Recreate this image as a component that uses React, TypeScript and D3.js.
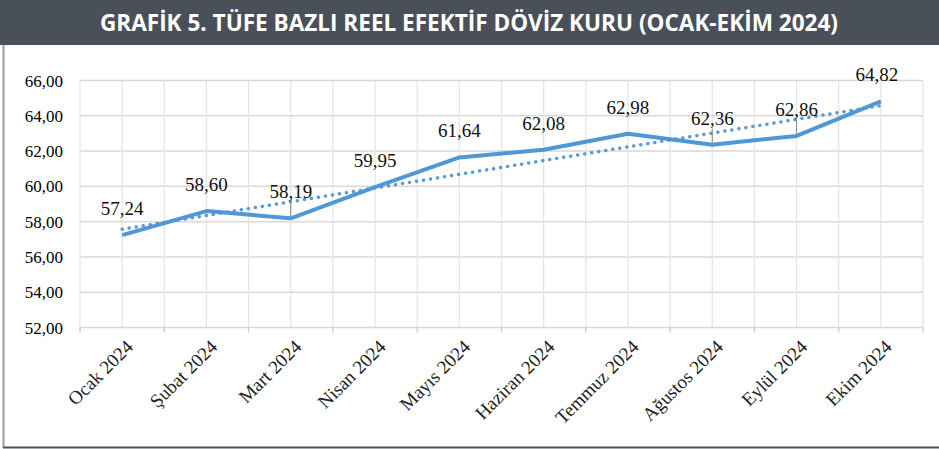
import React from "react";
import * as d3 from "d3";

const categories = ["Ocak 2024", "Şubat 2024", "Mart 2024", "Nisan 2024", "Mayıs 2024", "Haziran 2024", "Temmuz 2024", "Ağustos 2024", "Eylül 2024", "Ekim 2024"];
const values = [57.24, 58.6, 58.19, 59.95, 61.64, 62.08, 62.98, 62.36, 62.86, 64.82];
const yTicks = [52, 54, 56, 58, 60, 62, 64, 66];
const leaderIdx = [2, 7, 8];
const title = "GRAFİK 5. TÜFE BAZLI REEL EFEKTİF DÖVİZ KURU (OCAK-EKİM 2024)";

const W = 939, H = 449;
const L = 80, R = 923, T = 80.5, B = 327.5;
const SERIF = "Liberation Serif, DejaVu Serif, serif";

export default function App() {
  const x = d3.scaleBand<string>().domain(categories).range([L, R]).padding(0);
  const y = d3.scaleLinear().domain([52, 66]).range([B, T]);
  const cx = (i: number) => (x(categories[i]) as number) + x.bandwidth() / 2;
  const fmt = (v: number) => v.toFixed(2).replace(".", ",");

  const n = values.length;
  const xm = (n - 1) / 2;
  const ym = d3.mean(values) as number;
  let sxy = 0, sxx = 0;
  values.forEach((v, i) => { sxy += (i - xm) * (v - ym); sxx += (i - xm) ** 2; });
  const slope = sxy / sxx;
  const icpt = ym - slope * xm;

  const line = d3.line<number>().x((_, i) => cx(i)).y((d) => y(d));
  const bw = x.bandwidth();
  const vGrid: number[] = [];
  for (let i = 0; i <= n * 2; i++) vGrid.push(L + (i * bw) / 2);

  return (
    <svg width={W} height={H} style={{ position: "absolute", left: 0, top: 0, background: "#fff" }}>
      <rect x={0} y={0} width={W} height={45} fill="#4a505a" />
      <text x={469} y={31} textAnchor="middle" fill="#fff" style={{ fontFamily: "Open Sans, sans-serif", fontWeight: 700, fontSize: 23 }} textLength={738} lengthAdjust="spacingAndGlyphs">{title}</text>
      <line x1={3.5} y1={45} x2={3.5} y2={448} stroke="#9a9da5" strokeWidth={2} />
      <line x1={3} y1={447.5} x2={W} y2={447.5} stroke="#4a505a" strokeWidth={2} />

      {yTicks.map((t) => (
        <line key={"h" + t} x1={L} x2={R} y1={y(t)} y2={y(t)} stroke="#d9d9d9" strokeWidth={1.5} />
      ))}
      {vGrid.map((g, i) => (
        <line key={"v" + i} x1={g} x2={g} y1={T} y2={B} stroke="#e3e3e3" strokeWidth={1.2} />
      ))}
      {categories.map((c, i) => (
        <line key={"tk" + i} x1={x(c) as number} x2={x(c) as number} y1={B} y2={B + 5} stroke="#d0d0d0" strokeWidth={1.5} />
      ))}
      <line x1={R} x2={R} y1={B} y2={B + 5} stroke="#d0d0d0" strokeWidth={1.5} />

      {yTicks.map((t) => (
        <text key={"yl" + t} x={63} y={y(t) + 6} textAnchor="end" style={{ fontFamily: SERIF, fontSize: 17 }} fill="#000">{fmt(t)}</text>
      ))}

      {categories.map((c, i) => (
        <text key={"xl" + i} transform={`translate(${cx(i) + 12},${348}) rotate(-45)`} textAnchor="end" style={{ fontFamily: SERIF, fontSize: 19 }} fill="#222">{c}</text>
      ))}

      <line x1={cx(0)} y1={y(icpt)} x2={cx(n - 1)} y2={y(icpt + slope * (n - 1))} stroke="#5b9bd5" strokeWidth={3.5} strokeDasharray="0.1 7" strokeLinecap="round" />
      <path d={line(values) as string} fill="none" stroke="#4f97d5" strokeWidth={4} strokeLinejoin="round" />

      {leaderIdx.map((i) => (
        <line key={"ld" + i} x1={cx(i)} x2={cx(i)} y1={y(values[i]) - 16} y2={y(values[i]) - 2} stroke="#888" strokeWidth={1} />
      ))}
      {values.map((v, i) => (
        <text key={"dl" + i} x={cx(i) - (i === n - 1 ? 4 : 0)} y={y(v) - 20} textAnchor="middle" style={{ fontFamily: SERIF, fontSize: 19 }} fill="#111">{fmt(v)}</text>
      ))}
    </svg>
  );
}
